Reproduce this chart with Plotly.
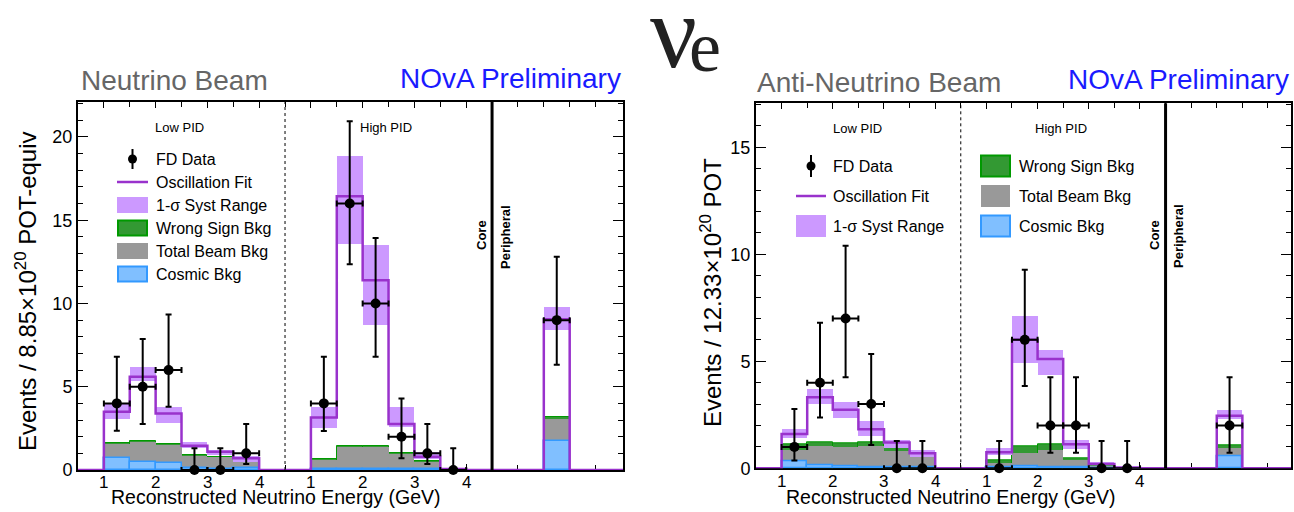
import plotly.graph_objects as go

W, H = 1294, 512
FONT = "Liberation Sans, Arial, Helvetica, sans-serif"

# ---------------------------------------------------------------------------
# Binning: each PID sample has six 0.5 GeV reconstructed-energy bins
# ---------------------------------------------------------------------------
energy_lo = [1.0, 1.5, 2.0, 2.5, 3.0, 3.5]
energy_ticks = [1, 2, 3, 4]
energy_tick_labels = ["1", "2", "3", "4"]
BIN_W = 0.5

# ---------------------------------------------------------------------------
# Neutrino beam
# ---------------------------------------------------------------------------
nu_low_fit = [3.5, 5.6, 3.4, 1.46, 1.1, 0.7]
nu_low_syst_lo = [3.04, 5.36, 2.84, 1.3, 0.92, 0.5]
nu_low_syst_hi = [4.0, 6.16, 3.8, 1.7, 1.2, 0.86]
nu_low_wsign = [1.6, 1.76, 1.56, 0.9, 0.8, 0.66]
nu_low_beam = [1.56, 1.7, 1.52, 0.86, 0.76, 0.6]
nu_low_cosmic = [0.7, 0.5, 0.4, 0.1, 0.08, 0.1]
nu_low_data = [4, 5, 6, 0, 0, 1]
nu_low_err_lo = [2.36, 2.76, 3.8, 0.0, 0.0, 0.36]
nu_low_err_hi = [6.8, 7.86, 9.34, 1.3, 1.3, 2.76]

nu_high_fit = [3.16, 16.44, 11.4, 2.76, 0.8, 0.06]
nu_high_syst_lo = [2.54, 13.6, 8.7, 2.6, 0.66, 0.02]
nu_high_syst_hi = [3.8, 18.86, 13.54, 3.8, 1.06, 0.1]
nu_high_wsign = [0.64, 1.44, 1.44, 1.0, 0.54, 0.03]
nu_high_beam = [0.58, 1.38, 1.38, 0.94, 0.48, 0.02]
nu_high_cosmic = [0.08, 0.08, 0.08, 0.08, 0.06, 0.01]
nu_high_data = [4, 16, 10, 2, 1, 0]
nu_high_err_lo = [2.34, 12.36, 6.8, 0.7, 0.36, 0.0]
nu_high_err_hi = [6.8, 20.94, 13.94, 4.3, 2.76, 1.3]

nu_peri_fit = 9.06
nu_peri_syst = [8.4, 9.76]
nu_peri_wsign = 3.16
nu_peri_beam = 3.06
nu_peri_cosmic = 1.76
nu_peri_data = 9
nu_peri_err = [6.32, 12.8]

# ---------------------------------------------------------------------------
# Anti-neutrino beam
# ---------------------------------------------------------------------------
anu_low_fit = [1.6, 3.32, 2.73, 1.82, 1.21, 0.7]
anu_low_syst_lo = [1.4, 3.0, 2.34, 1.48, 0.93, 0.51]
anu_low_syst_hi = [1.84, 3.7, 3.1, 2.18, 1.29, 0.86]
anu_low_wsign = [1.12, 1.21, 1.17, 1.21, 0.97, 0.62]
anu_low_beam = [0.86, 1.01, 1.0, 1.04, 0.8, 0.58]
anu_low_cosmic = [0.31, 0.12, 0.08, 0.05, 0.04, 0.03]
anu_low_data = [1, 4, 7, 3, 0, 0]
anu_low_err_lo = [0.36, 2.37, 4.25, 1.09, 0.0, 0.0]
anu_low_err_hi = [2.77, 6.8, 10.39, 5.34, 1.28, 1.28]

anu_high_fit = [0.75, 6.0, 5.11, 1.12, 0.2, 0.03]
anu_high_syst_lo = [0.62, 4.9, 4.36, 0.89, 0.14, 0.01]
anu_high_syst_hi = [0.93, 7.09, 5.53, 1.32, 0.26, 0.05]
anu_high_wsign = [0.36, 1.04, 1.12, 0.47, 0.08, 0.01]
anu_high_beam = [0.22, 0.70, 0.86, 0.39, 0.06, 0.01]
anu_high_cosmic = [0.05, 0.08, 0.05, 0.05, 0.02, 0.0]
anu_high_data = [0, 6, 2, 2, 0, 0]
anu_high_err_lo = [0.0, 3.85, 0.73, 0.73, 0.0, 0.0]
anu_high_err_hi = [1.28, 9.27, 4.25, 4.25, 1.28, 1.28]

anu_peri_fit = 2.45
anu_peri_syst = [2.28, 2.72]
anu_peri_wsign = 1.09
anu_peri_beam = 0.94
anu_peri_cosmic = 0.58
anu_peri_data = 2
anu_peri_err = [0.73, 4.25]

# ---------------------------------------------------------------------------
# Styling
# ---------------------------------------------------------------------------
C_FIT = "#9932cc"
C_SYST = "#cc99ff"
C_WS_FILL, C_WS_LINE = "#339933", "#009900"
C_BEAM = "#999999"
C_COS_FILL, C_COS_LINE = "#80bfff", "#3399ff"
C_TITLE = "#666666"
C_NOVA = "#1a1aff"

# the three samples laid out side by side on one axis
LOW_SHIFT = -0.5      # low-PID energies shifted onto [0, 4]
HIGH_SHIFT = 3.5      # high-PID energies shifted onto [4, 8]
PERI_LEFT = 9.0       # single peripheral bin
N_GRID = 21           # 0.5-wide slots spanning [0, 10.5]


def px(x):
    return x / W


def py(y):
    return 1 - y / H


def panel(xa, ya, x_max, low, high, peri):
    """Build all traces for one beam mode."""
    low_c = [e + LOW_SHIFT + BIN_W / 2 for e in energy_lo]
    high_c = [e + HIGH_SHIFT + BIN_W / 2 for e in energy_lo]
    peri_c = PERI_LEFT + BIN_W / 2
    centres = low_c + high_c + [peri_c]

    def cat(key):
        return low[key] + high[key] + [peri[key]]

    traces = []
    # stacked backgrounds drawn as overlaid bars from zero
    traces.append(go.Bar(x=centres, y=cat("wsign"), width=BIN_W, xaxis=xa, yaxis=ya,
                         marker=dict(color=C_WS_FILL, line=dict(color=C_WS_LINE, width=1)),
                         name="Wrong Sign Bkg", showlegend=False))
    traces.append(go.Bar(x=centres, y=cat("beam"), width=BIN_W, xaxis=xa, yaxis=ya,
                         marker=dict(color=C_BEAM, line=dict(width=0)),
                         name="Total Beam Bkg", showlegend=False))
    traces.append(go.Bar(x=centres, y=cat("cosmic"), width=BIN_W, xaxis=xa, yaxis=ya,
                         marker=dict(color=C_COS_FILL, line=dict(color=C_COS_LINE, width=1.5)),
                         name="Cosmic Bkg", showlegend=False))
    # 1-sigma systematic band
    s_lo = cat("syst_lo")
    s_hi = cat("syst_hi")
    traces.append(go.Bar(x=centres, base=s_lo, y=[h - l for h, l in zip(s_hi, s_lo)],
                         width=BIN_W, xaxis=xa, yaxis=ya,
                         marker=dict(color=C_SYST, line=dict(width=0)),
                         name="1-σ Syst Range", showlegend=False))
    # oscillation-fit histogram as a step line over the whole axis
    grid = [0.0] * N_GRID
    for c, v in zip(centres, cat("fit")):
        grid[int(round((c - BIN_W / 2) / BIN_W))] = v
    step_x = [k * BIN_W for k in range(N_GRID)] + [x_max]
    step_y = grid + [grid[-1]]
    traces.append(go.Scatter(x=step_x, y=step_y, mode="lines", line_shape="hv",
                             line=dict(color=C_FIT, width=2.5), cliponaxis=False,
                             xaxis=xa, yaxis=ya, name="Oscillation Fit", showlegend=False))
    # far-detector data with asymmetric Poisson errors
    d = cat("data")
    e_lo = cat("err_lo")
    e_hi = cat("err_hi")
    traces.append(go.Scatter(
        x=centres, y=d, mode="markers", xaxis=xa, yaxis=ya, cliponaxis=False,
        marker=dict(color="black", size=10),
        error_y=dict(type="data", symmetric=False,
                     array=[h - v for h, v in zip(e_hi, d)],
                     arrayminus=[v - l for v, l in zip(d, e_lo)],
                     color="black", thickness=2, width=3),
        error_x=dict(type="constant", value=BIN_W / 2, color="black", thickness=2, width=3),
        name="FD Data", showlegend=False))
    return traces


nu_low = dict(fit=nu_low_fit, syst_lo=nu_low_syst_lo, syst_hi=nu_low_syst_hi,
              wsign=nu_low_wsign, beam=nu_low_beam, cosmic=nu_low_cosmic,
              data=nu_low_data, err_lo=nu_low_err_lo, err_hi=nu_low_err_hi)
nu_high = dict(fit=nu_high_fit, syst_lo=nu_high_syst_lo, syst_hi=nu_high_syst_hi,
               wsign=nu_high_wsign, beam=nu_high_beam, cosmic=nu_high_cosmic,
               data=nu_high_data, err_lo=nu_high_err_lo, err_hi=nu_high_err_hi)
nu_peri = dict(fit=nu_peri_fit, syst_lo=nu_peri_syst[0], syst_hi=nu_peri_syst[1],
               wsign=nu_peri_wsign, beam=nu_peri_beam, cosmic=nu_peri_cosmic,
               data=nu_peri_data, err_lo=nu_peri_err[0], err_hi=nu_peri_err[1])

anu_low = dict(fit=anu_low_fit, syst_lo=anu_low_syst_lo, syst_hi=anu_low_syst_hi,
               wsign=anu_low_wsign, beam=anu_low_beam, cosmic=anu_low_cosmic,
               data=anu_low_data, err_lo=anu_low_err_lo, err_hi=anu_low_err_hi)
anu_high = dict(fit=anu_high_fit, syst_lo=anu_high_syst_lo, syst_hi=anu_high_syst_hi,
                wsign=anu_high_wsign, beam=anu_high_beam, cosmic=anu_high_cosmic,
                data=anu_high_data, err_lo=anu_high_err_lo, err_hi=anu_high_err_hi)
anu_peri = dict(fit=anu_peri_fit, syst_lo=anu_peri_syst[0], syst_hi=anu_peri_syst[1],
                wsign=anu_peri_wsign, beam=anu_peri_beam, cosmic=anu_peri_cosmic,
                data=anu_peri_data, err_lo=anu_peri_err[0], err_hi=anu_peri_err[1])

X1_MAX, X2_MAX = 10.53, 10.45
Y1_MAX, Y2_MAX = 22.1, 17.05

fig = go.Figure()
for t in panel("x", "y", X1_MAX, nu_low, nu_high, nu_peri):
    fig.add_trace(t)
for t in panel("x2", "y2", X2_MAX, anu_low, anu_high, anu_peri):
    fig.add_trace(t)

# ---------------------------------------------------------------------------
# Axes
# ---------------------------------------------------------------------------
x_major = [e + LOW_SHIFT for e in energy_ticks] + [e + HIGH_SHIFT for e in energy_ticks]
x_labels = energy_tick_labels * 2
x_minor = [k * BIN_W for k in range(1, N_GRID)]


def x_axis(domain, x_max, anchor):
    return dict(domain=domain, range=[0, x_max], anchor=anchor, automargin=False,
                showline=True, linecolor="black", linewidth=2, mirror="ticks",
                ticks="inside", ticklen=6, tickwidth=1, tickcolor="black",
                tickmode="array", tickvals=x_major, showticklabels=False,
                minor=dict(ticks="inside", ticklen=5, tickcolor="black",
                           tickmode="array", tickvals=x_minor),
                showgrid=False, zeroline=False, layer="below traces", fixedrange=True)


def y_axis(domain, y_max, anchor):
    return dict(domain=domain, range=[0, y_max], anchor=anchor, automargin=False,
                showline=True, linecolor="black", linewidth=2, mirror="ticks",
                ticks="inside", ticklen=10, tickwidth=1, tickcolor="black",
                dtick=5, tick0=0,
                tickfont=dict(family=FONT, size=18, color="black"),
                minor=dict(ticks="inside", ticklen=5, dtick=1, tickcolor="black"),
                showgrid=False, zeroline=False, fixedrange=True)


L_X0, L_X1, L_Y0, L_Y1 = 78, 623, 102, 470
R_X0, R_X1, R_Y0, R_Y1 = 756, 1291, 103.3, 468.3

fig.update_layout(
    xaxis=x_axis([px(L_X0), px(L_X1)], X1_MAX, "y"),
    yaxis=y_axis([py(L_Y1), py(L_Y0)], Y1_MAX, "x"),
    xaxis2=x_axis([px(R_X0), px(R_X1)], X2_MAX, "y2"),
    yaxis2=y_axis([py(R_Y1), py(R_Y0)], Y2_MAX, "x2"),
)

# sample separators: dotted between PID bins, solid before the peripheral bin
shapes = []
for xr, yr in (("x", "y domain"), ("x2", "y2 domain")):
    shapes.append(dict(type="line", xref=xr, yref=yr, x0=4, x1=4, y0=0, y1=1,
                       line=dict(color="black", width=1, dash="dot")))
    shapes.append(dict(type="line", xref=xr, yref=yr, x0=8, x1=8, y0=0, y1=1,
                       line=dict(color="black", width=3)))

annotations = []


def text(x, y, s, size, color="black", anchor="center", angle=0, family=FONT, yanchor="middle"):
    annotations.append(dict(x=px(x), y=py(y), xref="paper", yref="paper", text=s,
                            showarrow=False, xanchor=anchor, yanchor=yanchor,
                            textangle=angle, font=dict(family=family, size=size, color=color)))


# energy tick labels placed close under each x axis
for xr, y_label in (("x", 482), ("x2", 481)):
    for v, s in zip(x_major, x_labels):
        annotations.append(dict(x=v, y=py(y_label), xref=xr, yref="paper", text=s,
                                showarrow=False, xanchor="center", yanchor="middle",
                                font=dict(family=FONT, size=17, color="black")))


# ---------------------------------------------------------------------------
# Legends (drawn as swatches + labels)
# ---------------------------------------------------------------------------
def swatch_data(xc, yc, half_h):
    shapes.append(dict(type="line", xref="paper", yref="paper",
                       x0=px(xc), x1=px(xc), y0=py(yc - half_h), y1=py(yc + half_h),
                       line=dict(color="black", width=2)))
    shapes.append(dict(type="circle", xref="paper", yref="paper",
                       x0=px(xc - 4.5), x1=px(xc + 4.5), y0=py(yc - 4.5), y1=py(yc + 4.5),
                       fillcolor="black", line=dict(color="black", width=0)))


def swatch_line(x0, x1, yc):
    shapes.append(dict(type="line", xref="paper", yref="paper",
                       x0=px(x0), x1=px(x1), y0=py(yc), y1=py(yc),
                       line=dict(color=C_FIT, width=2.5)))


def swatch_box(x0, x1, yc, half_h, fill, edge=None):
    shapes.append(dict(type="rect", xref="paper", yref="paper",
                       x0=px(x0), x1=px(x1), y0=py(yc - half_h), y1=py(yc + half_h),
                       fillcolor=fill,
                       line=dict(color=edge if edge else fill, width=2 if edge else 0)))


LEG = 16
# neutrino panel: one column of six entries
lx0, lx1, ltx = 117, 148, 154
rows = [159, 182, 205, 228, 251, 274]
swatch_data((lx0 + lx1) / 2, rows[0], 10)
swatch_line(lx0, lx1, rows[1])
swatch_box(lx0, lx1, rows[2], 8, C_SYST)
swatch_box(lx0 + 1, lx1 - 1, rows[3], 7.5, C_WS_FILL, C_WS_LINE)
swatch_box(lx0, lx1, rows[4], 8, C_BEAM)
swatch_box(lx0 + 1, lx1 - 1, rows[5], 7.5, C_COS_FILL, C_COS_LINE)
for r, s in zip(rows, ["FD Data", "Oscillation Fit", "1-σ Syst Range",
                       "Wrong Sign Bkg", "Total Beam Bkg", "Cosmic Bkg"]):
    text(ltx, r, s, LEG, anchor="left")

# anti-neutrino panel: two columns of three entries
rows2 = [166, 196, 226]
ax0, ax1, atx = 796, 826, 831
swatch_data((ax0 + ax1) / 2, rows2[0], 11)
swatch_line(ax0, ax1, rows2[1])
swatch_box(ax0, ax1, rows2[2], 11, C_SYST)
for r, s in zip(rows2, ["FD Data", "Oscillation Fit", "1-σ Syst Range"]):
    text(atx, r, s, LEG, anchor="left")
bx0, bx1, btx = 981, 1010, 1017
swatch_box(bx0, bx1, rows2[0], 10.5, C_WS_FILL, C_WS_LINE)
swatch_box(bx0, bx1, rows2[1], 11, C_BEAM)
swatch_box(bx0, bx1, rows2[2], 10.5, C_COS_FILL, C_COS_LINE)
for r, s in zip(rows2, ["Wrong Sign Bkg", "Total Beam Bkg", "Cosmic Bkg"]):
    text(btx, r, s, LEG, anchor="left")

# ---------------------------------------------------------------------------
# Sample labels, titles and axis titles
# ---------------------------------------------------------------------------
text(179, 127, "Low PID", 13)
text(386, 127, "High PID", 13)
text(481, 235, "<b>Core</b>", 13, angle=-90)
text(505, 237, "<b>Peripheral</b>", 13, angle=-90)

text(857, 128, "Low PID", 13)
text(1061, 128, "High PID", 13)
text(1154, 235, "<b>Core</b>", 13, angle=-90)
text(1178, 236, "<b>Peripheral</b>", 13, angle=-90)

text(79, 80, "Neutrino Beam", 28, color=C_TITLE, anchor="left")
text(623, 78, "NOvA Preliminary", 28, color=C_NOVA, anchor="right")
text(755, 82, "Anti-Neutrino Beam", 28, color=C_TITLE, anchor="left")
text(1291, 79, "NOvA Preliminary", 28, color=C_NOVA, anchor="right")

SERIF = "Liberation Serif, DejaVu Serif, serif"
text(674, 31, "ν", 104, color="#222222", family=SERIF)
text(705, 47, "e", 72, color="#222222", family=SERIF)

text(26, 291, "Events / 8.85×10<sup>20</sup> POT-equiv", 24, angle=-90)
text(711, 292, "Events / 12.33×10<sup>20</sup> POT", 24, angle=-90)
text(275, 497, "Reconstructed Neutrino Energy (GeV)", 19.5)
text(950, 497, "Reconstructed Neutrino Energy (GeV)", 19.5)

fig.update_layout(
    width=W, height=H, autosize=False,
    margin=dict(l=0, r=0, t=0, b=0, pad=0, autoexpand=False),
    paper_bgcolor="white", plot_bgcolor="white",
    barmode="overlay", bargap=0,
    showlegend=False,
    shapes=shapes, annotations=annotations,
    font=dict(family=FONT, color="black"),
)

fig.write_html("out.html")
